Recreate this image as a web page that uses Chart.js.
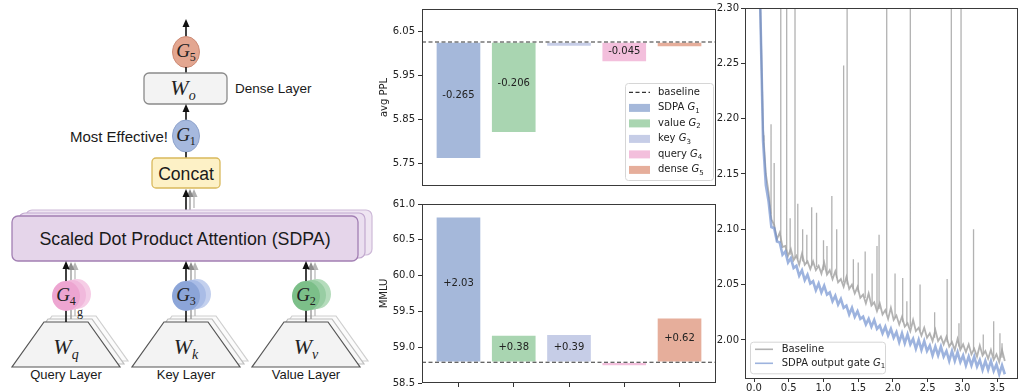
<!DOCTYPE html>
<html>
<head>
<meta charset="utf-8">
<script src="https://cdn.jsdelivr.net/npm/chart.js@4.4.0/dist/chart.umd.min.js"></script>
<style>
  body { margin: 0; background: #fff; }
  #page { position: relative; width: 1024px; height: 392px; overflow: hidden; background: #fff; }
  .box { position: absolute; }
</style>
</head>
<body>
<div id="page">
  <svg id="diagram" class="box" style="left:0;top:0" width="380" height="392"></svg>
  <div class="box" style="left:360px;top:0;width:360px;height:195px"><canvas id="pplChart"></canvas></div>
  <div class="box" style="left:360px;top:195px;width:360px;height:197px"><canvas id="mmluChart"></canvas></div>
  <div class="box" style="left:700px;top:0;width:324px;height:392px"><canvas id="lossChart"></canvas></div>
</div>
<script>
// gate variants (bar order)
var gateNames = ['SDPA', 'value', 'key', 'query', 'dense'];
var gateIndex = ['1', '2', '3', '4', '5'];
var gateColors = ['#a5b8da', '#a9d5b1', '#c6cde7', '#f3bfdc', '#e6ae9b'];
var gatePositions = [0, 1, 2, 3, 4];

// avg PPL (lower is better)
var pplBaseline = 6.026;
var pplDelta = [-0.265, -0.206, -0.010, -0.045, -0.011];
var pplLabels = ['-0.265', '-0.206', '', '-0.045', ''];
var pplTicks = [5.75, 5.85, 5.95, 6.05];

// MMLU
var mmluBaseline = 58.79;
var mmluDelta = [2.03, 0.38, 0.39, -0.05, 0.62];
var mmluLabels = ['+2.03', '+0.38', '+0.39', '', '+0.62'];
var mmluTicks = [58.5, 59.0, 59.5, 60.0, 60.5, 61.0];

// training loss curves
var lossSteps = [0.05,0.09,0.13,0.17,0.21,0.25,0.29,0.33,0.37,0.41,
  0.45,0.49,0.53,0.57,0.61,0.65,0.69,0.73,0.77,0.81,
  0.85,0.89,0.93,0.97,1.01,1.05,1.09,1.13,1.17,1.21,
  1.25,1.29,1.33,1.37,1.41,1.45,1.49,1.53,1.57,1.61,
  1.65,1.69,1.73,1.77,1.81,1.85,1.89,1.93,1.97,2.01,
  2.05,2.09,2.13,2.17,2.21,2.25,2.29,2.33,2.37,2.41,
  2.45,2.49,2.53,2.57,2.61,2.65,2.69,2.73,2.77,2.81,
  2.85,2.89,2.93,2.97,3.01,3.05,3.09,3.13,3.17,3.21,
  3.25,3.29,3.33,3.37,3.41,3.45,3.49,3.53,3.57,3.61];
var baselineLoss = [2.450,2.300,2.190,2.150,2.133,2.109,2.104,2.091,2.097,2.084,
  2.085,2.076,2.082,2.072,2.076,2.068,2.078,2.068,2.071,2.064,
  2.071,2.063,2.067,2.060,2.070,2.059,2.063,2.055,2.062,2.052,
  2.055,2.048,2.057,2.046,2.050,2.042,2.048,2.038,2.041,2.033,
  2.042,2.031,2.034,2.026,2.033,2.023,2.027,2.019,2.029,2.018,
  2.022,2.014,2.021,2.012,2.015,2.008,2.018,2.008,2.011,2.004,
  2.011,2.002,2.006,1.999,2.009,1.999,2.003,1.996,2.003,1.994,
  1.998,1.991,2.001,1.991,1.996,1.989,1.996,1.987,1.992,1.985,
  1.995,1.986,1.990,1.983,1.991,1.982,1.987,1.980,1.991,1.981];
var gateLoss = [2.450,2.300,2.180,2.140,2.125,2.102,2.101,2.089,2.088,2.077,
  2.080,2.070,2.074,2.065,2.067,2.058,2.063,2.054,2.059,2.051,
  2.053,2.045,2.051,2.043,2.049,2.041,2.043,2.035,2.040,2.032,
  2.037,2.029,2.031,2.023,2.029,2.021,2.026,2.019,2.021,2.014,
  2.019,2.012,2.018,2.010,2.013,2.006,2.012,2.004,2.010,2.002,
  2.007,1.998,2.006,1.997,2.005,1.996,2.001,1.992,2.000,1.991,
  1.999,1.990,1.995,1.986,1.994,1.986,1.994,1.985,1.990,1.981,
  1.990,1.981,1.989,1.980,1.986,1.977,1.985,1.977,1.985,1.976,
  1.982,1.973,1.981,1.973,1.981,1.972,1.978,1.969,1.977,1.969];
// loss spikes of the baseline run
var spikeSteps = [0.14,0.245,0.29,0.385,0.47,0.52,0.59,0.63,0.70,0.76,
  0.83,0.90,1.00,1.05,1.12,1.19,1.29,1.34,1.43,1.50,
  1.60,1.70,1.77,1.80,1.91,2.03,2.14,2.20,2.25,2.39,
  2.60,2.78,2.84,2.95,2.98,3.16,3.30,3.45,3.54,3.57];
var spikeBase = [2.180,2.114,2.102,2.088,2.080,2.077,2.074,2.073,2.071,2.069,
  2.067,2.066,2.063,2.061,2.059,2.056,2.052,2.050,2.046,2.043,
  2.038,2.033,2.029,2.028,2.024,2.020,2.016,2.014,2.012,2.008,
  2.002,1.998,1.996,1.994,1.993,1.990,1.988,1.985,1.984,1.984];
var spikePeaks = [2.185,2.195,2.160,2.400,2.400,2.110,2.400,2.123,2.100,2.095,
  2.120,2.115,2.090,2.085,2.130,2.100,2.248,2.400,2.073,2.070,
  2.080,2.060,2.085,2.095,2.400,2.060,2.056,2.035,2.400,2.050,
  2.025,2.055,2.400,2.015,2.400,2.100,2.005,2.017,2.006,1.997];
var lossTicksX = [0.0, 0.5, 1.0, 1.5, 2.0, 2.5, 3.0, 3.5];
var lossTicksY = [2.00, 2.05, 2.10, 2.15, 2.20, 2.25, 2.30];

// ---------- architecture diagram (svg) ----------
var svg = [];
function upArrow(x, from, tip, color, width) {
  svg.push('<line x1="' + x + '" y1="' + from + '" x2="' + x + '" y2="' + (tip + 5) + '" stroke="' + color + '" stroke-width="' + width + '"/>');
  svg.push('<polygon points="' + x + ',' + tip + ' ' + (x - 3.5) + ',' + (tip + 8) + ' ' + (x + 3.5) + ',' + (tip + 8) + '" fill="' + color + '"/>');
}
function mathLabel(x, y, main, sub, size, subItalic) {
  svg.push('<text x="' + x + '" y="' + y + '" text-anchor="middle" font-family="\'Liberation Serif\', serif" font-style="italic" font-size="' + size + '" fill="#222">' + main +
    '<tspan font-size="' + Math.round(size * 0.65) + '" dy="' + Math.round(size * 0.22) + '" font-style="' + (subItalic ? 'italic' : 'normal') + '">' + sub + '</tspan></text>');
}
function plainText(x, y, txt, size, anchor) {
  svg.push('<text x="' + x + '" y="' + y + '" text-anchor="' + anchor + '" font-family="\'Liberation Sans\', Arial, sans-serif" font-size="' + size + '" fill="#1a1a1a">' + txt + '</text>');
}
function trap(cx, dx, dy, fill, stroke) {
  var c = cx + dx;
  svg.push('<polygon points="' + (c - 54) + ',' + (367 + dy) + ' ' + (c + 54) + ',' + (367 + dy) + ' ' + (c + 22) + ',' + (322 + dy) + ' ' + (c - 22) + ',' + (322 + dy) +
    '" fill="' + fill + '" stroke="' + stroke + '" stroke-width="1.2"/>');
}

upArrow(186, 37, 19, '#111', 1.6);
svg.push('<ellipse cx="186" cy="52" rx="13.5" ry="15.5" fill="#e3a690" stroke="#cd8c77"/>');
mathLabel(186, 57, 'G', '5', 19, false);
svg.push('<line x1="186" y1="67" x2="186" y2="73" stroke="#111" stroke-width="1.6"/>');
svg.push('<rect x="144" y="73" width="83" height="31" rx="5" fill="#f3f3f3" stroke="#8a8a8a" stroke-width="1.3"/>');
mathLabel(183, 95, 'W', 'o', 22, true);
plainText(235, 93, 'Dense Layer', 13.5, 'start');
upArrow(186, 120, 104, '#111', 1.6);
svg.push('<ellipse cx="186" cy="136" rx="13.5" ry="16" fill="#a6b9de" stroke="#8ea3cc"/>');
mathLabel(186, 141, 'G', '1', 19, false);
plainText(168, 142, 'Most Effective!', 15, 'end');
svg.push('<line x1="186" y1="152" x2="186" y2="158" stroke="#111" stroke-width="1.6"/>');
svg.push('<rect x="152" y="158" width="68" height="30" rx="4" fill="#fdf1c6" stroke="#d9b95c" stroke-width="1.3"/>');
plainText(186, 180, 'Concat', 17.6, 'middle');
upArrow(194, 208, 189, '#b0b0b0', 1.2);
upArrow(190, 210, 189, '#888', 1.2);
upArrow(186, 212, 189, '#111', 1.6);
svg.push('<rect x="26" y="210" width="346" height="45" rx="6" fill="#efe5f2" stroke="#cdb9d8" stroke-width="1.2"/>');
svg.push('<rect x="19" y="213" width="346" height="45" rx="6" fill="#ebdff0" stroke="#c2a9cf" stroke-width="1.2"/>');
svg.push('<rect x="12" y="216" width="346" height="45" rx="6" fill="#e5d5ea" stroke="#a27fb3" stroke-width="1.3"/>');
plainText(185, 245, 'Scaled Dot Product Attention (SDPA)', 17.8, 'middle');

var branches = [
  { cx: 66, g: '4', w: 'q', label: 'Query Layer', colors: ['#f6cde6', '#f1b9dc', '#eda5d1'] },
  { cx: 186, g: '3', w: 'k', label: 'Key Layer', colors: ['#c3d0ee', '#a9bce6', '#8ca5d8'] },
  { cx: 306, g: '2', w: 'v', label: 'Value Layer', colors: ['#b5dcbc', '#98cda3', '#7cbf89'] }
];
branches.forEach(function (b) {
  var cx = b.cx;
  trap(cx, 8, -6, '#fbfbfb', '#cfcfcf');
  trap(cx, 4, -3, '#f8f8f8', '#bdbdbd');
  upArrow(cx + 9, 316, 262, '#b5b5b5', 1.2);
  upArrow(cx + 5, 319, 262, '#8c8c8c', 1.2);
  trap(cx, 0, 0, '#f3f3f3', '#555');
  upArrow(cx, 322, 261, '#111', 1.6);
  svg.push('<ellipse cx="' + (cx + 11) + '" cy="294" rx="14" ry="15" fill="' + b.colors[0] + '"/>');
  svg.push('<ellipse cx="' + (cx + 6) + '" cy="295" rx="14" ry="15" fill="' + b.colors[1] + '"/>');
  svg.push('<ellipse cx="' + cx + '" cy="296" rx="14" ry="15" fill="' + b.colors[2] + '"/>');
  mathLabel(cx, 301, 'G', b.g, 19, false);
  mathLabel(cx, 354, 'W', b.w, 22, true);
  plainText(cx, 379, b.label, 13, 'middle');
});
svg.push('<text x="77" y="316" font-family="\'Liberation Serif\', serif" font-size="12" fill="#222">g</text>');
document.getElementById('diagram').innerHTML = svg.join('');

// ---------- charts ----------
Chart.defaults.font.family = '"DejaVu Sans", sans-serif';
Chart.defaults.font.size = 10;
Chart.defaults.color = '#222';
Chart.defaults.animation = false;

var framePlugin = {
  id: 'frame',
  afterDatasetsDraw: function (chart) {
    var a = chart.chartArea, ctx = chart.ctx;
    ctx.save();
    ctx.strokeStyle = '#3a3a3a';
    ctx.lineWidth = 1;
    ctx.strokeRect(a.left + 0.5, a.top + 0.5, a.right - a.left - 1, a.bottom - a.top - 1);
    ctx.restore();
  }
};

function richText(ctx, x, y, parts, size) {
  parts.forEach(function (p) {
    if (p[1] === 's') {
      ctx.font = (size * 0.7) + 'px "DejaVu Sans"';
      ctx.fillText(p[0], x, y + size * 0.3);
    } else {
      ctx.font = (p[1] === 'i' ? 'italic ' : '') + size + 'px "DejaVu Sans"';
      ctx.fillText(p[0], x, y);
    }
    x += ctx.measureText(p[0]).width;
  });
}

function legendPlugin(spec) {
  return {
    id: 'insideLegend',
    afterDatasetsDraw: function (chart) {
      var a = chart.chartArea, ctx = chart.ctx;
      var x = spec.anchor === 'right' ? a.right - spec.inset - spec.w : a.left + spec.inset;
      var y = a.bottom - spec.insetBottom - spec.h;
      ctx.save();
      ctx.fillStyle = 'rgba(255,255,255,0.85)';
      ctx.strokeStyle = '#d6d6d6';
      ctx.lineWidth = 1;
      ctx.beginPath();
      ctx.roundRect(x + 0.5, y + 0.5, spec.w, spec.h, 3);
      ctx.fill();
      ctx.stroke();
      ctx.textBaseline = 'middle';
      ctx.textAlign = 'left';
      spec.items.forEach(function (it, i) {
        var cy = y + spec.first + i * spec.rowH;
        var sx = x + spec.sampleX;
        if (it.kind === 'box') {
          ctx.fillStyle = it.color;
          ctx.fillRect(sx, cy - 4, spec.sampleW, 8);
        } else {
          ctx.strokeStyle = it.color;
          ctx.lineWidth = it.kind === 'dash' ? 1.2 : 1.6;
          ctx.setLineDash(it.kind === 'dash' ? [4, 2.5] : []);
          ctx.beginPath();
          ctx.moveTo(sx, cy);
          ctx.lineTo(sx + spec.sampleW, cy);
          ctx.stroke();
          ctx.setLineDash([]);
        }
        ctx.fillStyle = '#222';
        richText(ctx, x + spec.textX, cy, it.parts, 10);
      });
      ctx.restore();
    }
  };
}

function barLabelPlugin(labels) {
  return {
    id: 'barLabels',
    afterDatasetsDraw: function (chart) {
      var ctx = chart.ctx, meta = chart.getDatasetMeta(1);
      ctx.save();
      ctx.font = '10px "DejaVu Sans"';
      ctx.fillStyle = '#222';
      ctx.textAlign = 'center';
      ctx.textBaseline = 'middle';
      meta.data.forEach(function (bar, i) {
        if (!labels[i]) return;
        var h = Math.abs(bar.base - bar.y);
        ctx.fillText(labels[i], bar.x, (bar.y + bar.base) / 2 - 0.04 * h);
      });
      ctx.restore();
    }
  };
}

function makeBarChart(id, base, delta, labels, ticks, yMin, yMax, title, digits, opts) {
  var xMin = -0.66, xMax = 4.66;
  var bars = gatePositions.map(function (x, i) {
    var end = base + delta[i];
    return { x: x, y: [Math.min(base, end), Math.max(base, end)] };
  });
  var plugins = [framePlugin, barLabelPlugin(labels)];
  if (opts.legend) plugins.push(legendPlugin(opts.legend));
  return new Chart(document.getElementById(id), {
    type: 'bar',
    data: {
      datasets: [
        { type: 'line', data: [{ x: xMin, y: base }, { x: xMax, y: base }], borderColor: '#333', borderWidth: 1.1,
          borderDash: [4, 2.5], pointRadius: 0, order: 0 },
        { data: bars, backgroundColor: gateColors, borderColor: 'rgba(255,255,255,0.45)', borderWidth: 1,
          borderSkipped: false, barThickness: 45, grouped: false, order: 1 }
      ]
    },
    options: {
      responsive: true,
      maintainAspectRatio: false,
      layout: { padding: { left: 14, right: 4, top: opts.top, bottom: opts.bottom } },
      plugins: { legend: { display: false }, tooltip: { enabled: false } },
      scales: {
        x: {
          type: 'linear', min: xMin, max: xMax, offset: false, display: opts.xTicks,
          afterBuildTicks: function (s) { s.ticks = gatePositions.map(function (v) { return { value: v }; }); },
          ticks: { display: false },
          grid: { drawOnChartArea: false, drawTicks: true, tickLength: 4, color: '#333', offset: false },
          border: { display: false },
          afterFit: function (s) { s.height = 3; }
        },
        y: {
          min: yMin, max: yMax,
          afterBuildTicks: function (s) { s.ticks = ticks.map(function (v) { return { value: v }; }); },
          ticks: { callback: function (v) { return Number(v).toFixed(digits); }, padding: 3 },
          grid: { drawOnChartArea: false, tickLength: 4, color: '#333' },
          border: { display: false },
          title: { display: true, text: title, font: { size: 10 }, padding: { top: 4, bottom: 0 } },
          afterFit: function (s) { s.width = 48; }
        }
      }
    },
    plugins: plugins
  });
}

var gateLegendItems = [{ kind: 'dash', color: '#333', parts: [['baseline', 'n']] }].concat(
  gateNames.map(function (n, i) {
    return { kind: 'box', color: gateColors[i], parts: [[n + ' ', 'n'], ['G', 'i'], [gateIndex[i], 's']] };
  }));

makeBarChart('pplChart', pplBaseline, pplDelta, pplLabels, pplTicks, 5.699, 6.101, 'avg PPL', 2, {
  top: 2, bottom: 5, xTicks: false,
  legend: { anchor: 'right', inset: 3, insetBottom: 6, w: 88, h: 97, first: 9.4, rowH: 15.5,
    sampleX: 4, sampleW: 21, textX: 33, items: gateLegendItems }
});
makeBarChart('mmluChart', mmluBaseline, mmluDelta, mmluLabels, mmluTicks, 58.5, 61.0, 'MMLU', 1, {
  top: 6, bottom: 0, xTicks: true
});

// loss chart
var spikeData = [];
spikeSteps.forEach(function (x, i) {
  spikeData.push({ x: x, y: spikeBase[i] }, { x: x, y: spikePeaks[i] }, { x: x, y: null });
});
var grayLine = 'rgba(165,165,165,0.85)';
var blueLine = 'rgba(104,138,204,0.65)';

new Chart(document.getElementById('lossChart'), {
  type: 'line',
  data: {
    datasets: [
      { label: 'SDPA output gate', data: lossSteps.map(function (x, i) { return { x: x, y: gateLoss[i] }; }),
        borderColor: blueLine, borderWidth: 2.6, order: 0 },
      { label: 'Baseline', data: lossSteps.map(function (x, i) { return { x: x, y: baselineLoss[i] }; }),
        borderColor: grayLine, borderWidth: 1.8, order: 1 },
      { label: 'spikes', data: spikeData, borderColor: grayLine, borderWidth: 1.3, spanGaps: false, order: 2 }
    ]
  },
  options: {
    responsive: true,
    maintainAspectRatio: false,
    layout: { padding: { top: 6, right: 6, left: 0, bottom: 0 } },
    elements: { point: { radius: 0 }, line: { tension: 0 } },
    plugins: { legend: { display: false }, tooltip: { enabled: false } },
    scales: {
      x: {
        type: 'linear', min: -0.13, max: 3.80,
        afterBuildTicks: function (s) { s.ticks = lossTicksX.map(function (v) { return { value: v }; }); },
        ticks: { callback: function (v) { return Number(v).toFixed(1); }, maxRotation: 0, autoSkip: false, padding: 0 },
        grid: { drawOnChartArea: false, tickLength: 3, color: '#333' },
        border: { display: false },
        afterFit: function (s) { s.height = 13; }
      },
      y: {
        min: 1.9647, max: 2.30,
        afterBuildTicks: function (s) { s.ticks = lossTicksY.map(function (v) { return { value: v }; }); },
        ticks: { callback: function (v) { return Number(v).toFixed(2); }, padding: 2 },
        grid: { drawOnChartArea: false, tickLength: 4, color: '#333' },
        border: { display: false },
        afterFit: function (s) { s.width = 45; }
      }
    }
  },
  plugins: [framePlugin, legendPlugin({
    anchor: 'left', inset: 5, insetBottom: 5.7, w: 135, h: 31.6, first: 7.6, rowH: 14,
    sampleX: 5, sampleW: 18, textX: 31.7,
    items: [
      { kind: 'line', color: grayLine, parts: [['Baseline', 'n']] },
      { kind: 'line', color: blueLine, parts: [['SDPA output gate ', 'n'], ['G', 'i'], ['1', 's']] }
    ]
  })]
});
</script>
</body>
</html>
